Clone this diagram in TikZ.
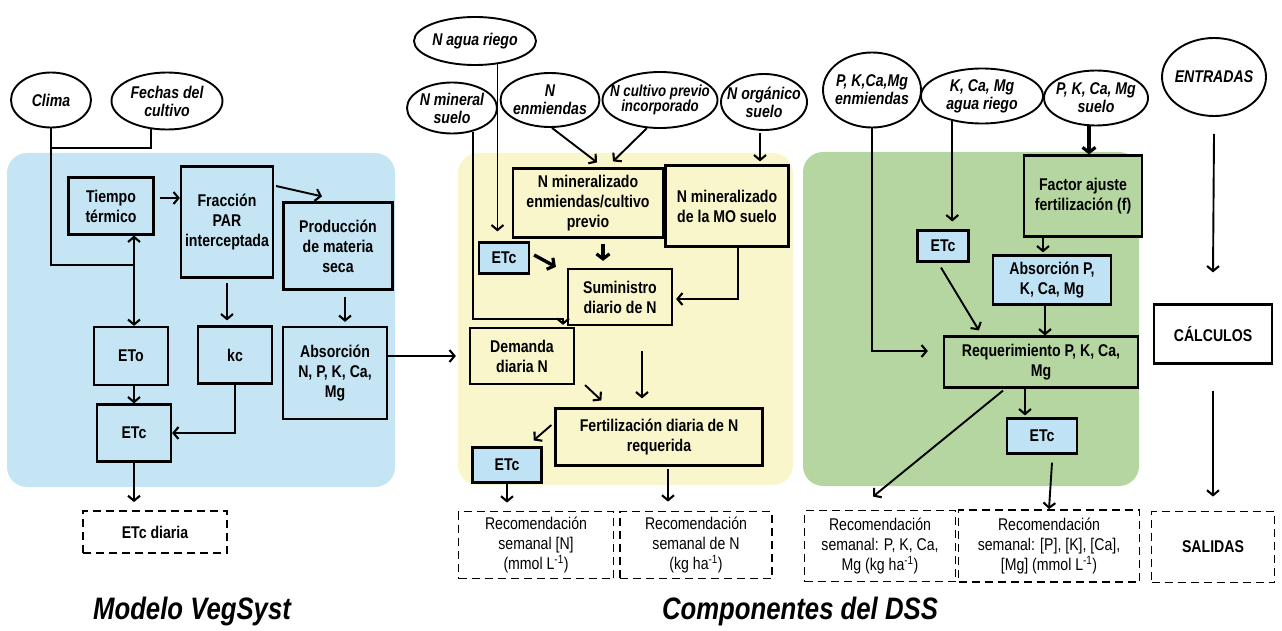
\documentclass[tikz,border=0pt]{standalone}
\usepackage{fontspec}
\setmainfont{Liberation Sans}[FakeStretch=0.83]
\usetikzlibrary{arrows.meta,shapes.geometric}

\definecolor{vegblue}{RGB}{197,228,244}
\definecolor{nyellow}{RGB}{249,246,204}
\definecolor{pkgreen}{RGB}{181,214,160}
\definecolor{etcblue}{RGB}{192,226,245}

\tikzset{
  bx/.style 2 args={draw, line width=2.2pt, align=center, inner sep=0pt,
    font=\fontsize{17}{20}\selectfont\bfseries, minimum width=#1, minimum height=#2},
  recbox/.style 2 args={draw, line width=1.8pt, dash pattern=on 8pt off 5pt, align=center,
    inner sep=0pt, font=\fontsize{17}{20}\selectfont, minimum width=#1, minimum height=#2},
  inp/.style 2 args={ellipse, draw, fill=white, line width=1.9pt, align=center,
    inner xsep=-18pt, inner ysep=-3pt, font=\fontsize{17}{18}\selectfont\bfseries\itshape,
    minimum width=#1, minimum height=#2},
  wire/.style={line width=1.9pt},
  link/.style={wire, -{Straight Barb[length=5pt,width=12pt,line width=2.1pt]}},
  fatlink/.style={line width=3.4pt, -{Straight Barb[length=5pt,width=13pt,line width=3.2pt]}},
  ttl/.style={font=\fontsize{31}{33}\selectfont\bfseries\itshape},
}

\begin{document}
\begin{tikzpicture}[x=1pt,y=-1pt]
    \useasboundingbox (0,0) rectangle (1282,631);

    \fill[vegblue, rounded corners=20pt] (7,153) rectangle (395,487);
    \fill[nyellow, rounded corners=20pt] (458,153) rectangle (793,485);
    \fill[pkgreen, rounded corners=20pt] (803,152) rectangle (1139,486);

    % Modelo VegSyst
    \node[inp={80}{55}] (clima) at (51,100) {Clima};
    \node[inp={111}{57}] (fechas) at (167,101) {Fechas del\\cultivo};
    \node[bx={85}{57}, fill=vegblue] (tt) at (111,206) {Tiempo\\térmico};
    \node[bx={92}{111}, fill=vegblue] (fpar) at (227,222) {Fracción\\PAR\\interceptada};
    \node[bx={109}{87}, fill=vegblue] (pms) at (338,246) {Producción\\de materia\\seca};
    \node[bx={74}{58}, fill=vegblue] (eto) at (131,356) {ETo};
    \node[bx={74}{57}, fill=vegblue] (kc) at (235,355) {kc};
    \node[bx={74}{57}, fill=vegblue] (etc) at (134,433) {ETc};
    \node[bx={104}{92}, fill=vegblue] (abs) at (335,373) {Absorción\\N, P, K, Ca,\\Mg};
    \node[recbox={144}{42}, font=\fontsize{17}{20}\selectfont\bfseries] (etcd) at (155,532) {ETc diaria};
    \node[ttl] (tveg) at (192,611) {Modelo VegSyst};

    \coordinate (jc) at (134,265);
    \draw[wire] (clima.south) |- (jc);
    \draw[wire] (fechas.240) |- (clima.south |- 0,148);
    \draw[link] (jc) -- (jc |- tt.south);
    \draw[link] (jc) -- (jc |- eto.north);
    \draw[link] ([xshift=5pt,yshift=8pt]tt.east) -- ([yshift=8pt]tt.east -| fpar.west);
    \draw[link] ([xshift=2pt,yshift=36pt]fpar.east) -- ([xshift=-16pt,yshift=5pt]pms.north);
    \draw[link] ([yshift=-4pt]fpar.south) -- ([yshift=5pt]fpar.south |- kc.north);
    \draw[link] (etc.north |- eto.south) -- (etc.north);
    \draw[link] (kc.south) |- (etc.east);
    \draw[link, shorten >=8pt] (etc.south) -- (etc.south |- etcd.north);
    \draw[link] ([xshift=7pt,yshift=-6pt]pms.south) -- ([xshift=10pt,yshift=4pt]abs.north);

    % N
    \node[inp={122}{48}] (nagua) at (475,41) {N agua riego};
    \node[inp={90}{51}] (nmin) at (452,108) {N mineral\\suelo};
    \node[inp={99}{54}] (nenm) at (550,100) {N\\enmiendas};
    \node[inp={115}{56}, font=\fontsize{16}{15}\selectfont\bfseries\itshape] (ncult) at (660,100) {N cultivo previo\\incorporado};
    \node[inp={86}{56}] (norg) at (764,102) {N orgánico\\suelo};
    \node[bx={150}{69}, fill=nyellow] (nme) at (588,203) {N mineralizado\\enmiendas/cultivo\\previo};
    \node[bx={123}{81}, fill=nyellow] (nmo) at (727,206) {N mineralizado\\de la MO suelo};
    \node[bx={50}{31}, fill=etcblue] (etca) at (504,258) {ETc};
    \node[bx={104}{56}, fill=nyellow] (sum) at (620,297) {Suministro\\diario de N};
    \node[bx={104}{56}, fill=nyellow] (dem) at (522,356) {Demanda\\diaria N};
    \node[bx={207}{57}, fill=nyellow] (fert) at (659,437) {Fertilización diaria de N\\requerida};
    \node[bx={69}{35}, fill=etcblue] (etcb) at (507,465) {ETc};
    \node[recbox={155}{67}] (recn) at (536,545) {Recomendación\\semanal [N]\\(mmol L\textsuperscript{-1})};
    \node[recbox={152}{67}] (reckg) at (696,545) {Recomendación\\semanal de N\\(kg ha\textsuperscript{-1})};
    \node[ttl] (tdss) at (800,611) {Componentes del DSS};

    \coordinate (nm) at (563,319);
    \draw[link] (abs.east |- dem.west) -- ([xshift=-13pt]dem.west);
    \draw[link, shorten >=10pt] (nagua.314) -- (nagua.314 |- etca.north);
    \draw[link, shorten >=2pt] (nmin.311) |- (nm) -- (nm |- dem.north);
    \draw[link] ([xshift=2pt]nenm.south) -- ([xshift=9pt,yshift=5pt]nme.north);
    \draw[link] (ncult.245) -- ([xshift=25pt,yshift=6pt]nme.north);
    \draw[link] ([xshift=-4pt,yshift=-2pt]norg.south) -- ([xshift=33pt,yshift=3pt]nmo.north);
    \draw[fatlink] ([xshift=4pt,yshift=3pt]etca.east) -- ([xshift=-11pt,yshift=1pt]sum.north west);
    \draw[fatlink] ([xshift=15pt,yshift=-5pt]nme.south) -- ([xshift=-17pt,yshift=7pt]sum.north);
    \draw[link, shorten >=3pt] ([xshift=11pt]nmo.south) |- ([yshift=-2pt]sum.east);
    \draw[link, shorten <=25pt, shorten >=9pt] ([xshift=22pt]sum.south) -- ([xshift=-17pt]fert.north);
    \draw[link] ([xshift=10pt]dem.south east) -- ([xshift=47pt,yshift=7pt]fert.north west);
    \draw[link] ([xshift=-3pt,yshift=12pt]fert.west) -- ([xshift=-9pt,yshift=6pt]etcb.north east);
    \draw[link, shorten >=8pt] (etcb.south) -- (etcb.south |- recn.north);
    \draw[link] ([xshift=9pt,yshift=-2pt]fert.south) -- ([xshift=-28pt,yshift=9pt]reckg.north);

    % P, K, Ca, Mg
    \node[inp={98}{75}] (pkenm) at (872,90) {P, K,Ca,Mg\\enmiendas};
    \node[inp={122}{55}] (kagua) at (982,96) {K, Ca, Mg\\agua riego};
    \node[inp={104}{55}] (pksue) at (1096,98) {P, K, Ca, Mg\\suelo};
    \node[bx={118}{81}, fill=pkgreen] (fact) at (1083,196) {Factor ajuste\\fertilización (f)};
    \node[bx={51}{31}, fill=etcblue] (etcg) at (943,246) {ETc};
    \node[bx={118}{49}, fill=etcblue] (absp) at (1052,280) {Absorción P,\\K, Ca, Mg};
    \node[bx={194}{51}, fill=pkgreen] (req) at (1041,362) {Requerimiento P, K, Ca,\\Mg};
    \node[bx={70}{35}, fill=etcblue] (etch) at (1042,436) {ETc};
    \node[recbox={151}{71}] (recpk) at (880,546) {Recomendación\\semanal: P, K, Ca,\\Mg (kg ha\textsuperscript{-1})};
    \node[recbox={181}{72}] (recpmm) at (1049,546) {Recomendación\\semanal: [P], [K], [Ca],\\{}[Mg] (mmol L\textsuperscript{-1})};

    \draw[link] (pkenm.south) |- ([xshift=-15pt,yshift=11pt]req.west);
    \draw[link, shorten >=8pt] (kagua.220) -- (kagua.220 |- etcg.north);
    \draw[fatlink] ([xshift=-7pt]pksue.south) -- ([xshift=6pt]fact.north);
    \draw[link] ([xshift=-40pt]fact.south) -- ([xshift=-9pt,yshift=2pt]absp.north);
    \draw[link] ([xshift=-7pt]absp.south) -- ([xshift=4pt]req.north);
    \draw[link] ([xshift=-2pt,yshift=-5pt]etcg.south) -- ([xshift=36pt,yshift=5pt]req.north west);
    \draw[link] ([xshift=-16pt]req.south) -- ([xshift=-17pt,yshift=2pt]etch.north);
    \draw[link] ([xshift=-38pt,yshift=-2pt]req.south) -- ([xshift=-7pt,yshift=13pt]recpk.north);
    \draw[link] ([xshift=10pt,yshift=-8pt]etch.south) -- (recpmm.north);

    % leyenda
    \node[inp={104}{78}] (entr) at (1214,77) {ENTRADAS};
    \node[bx={118}{59}, fill=white] (calc) at (1213,334) {CÁLCULOS};
    \node[recbox={123}{71}, font=\fontsize{17}{20}\selectfont\bfseries] (sal) at (1213,547) {SALIDAS};
    \draw[link] ([yshift=-17pt]entr.south) -- ([yshift=31pt]calc.north);
    \draw[link] ([yshift=-26pt]calc.south) -- ([yshift=14pt]sal.north);
\end{tikzpicture}
\end{document}
